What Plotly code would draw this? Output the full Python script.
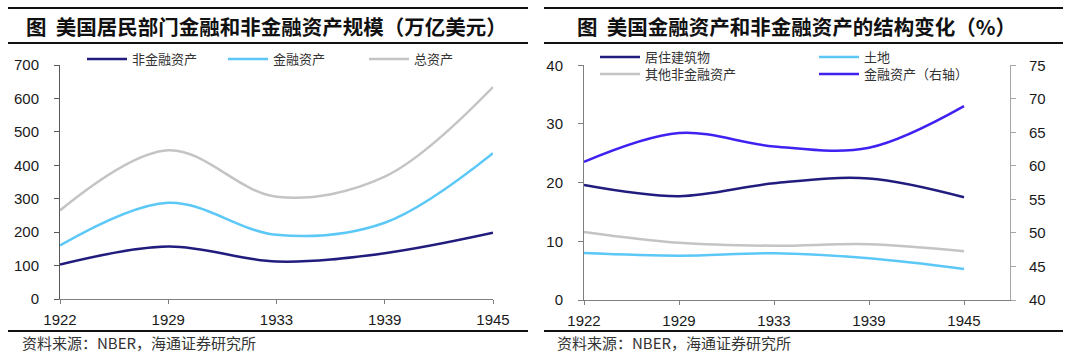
import plotly.graph_objects as go

# ---------------- data ----------------
years = ["1922", "1929", "1933", "1939", "1945"]

# left panel (万亿美元)
nonfin_assets = [103, 157, 112, 137, 198]
fin_assets = [160, 288, 192, 228, 436]
total_assets = [265, 445, 306, 366, 634]

# right panel (%)
residential = [19.6, 17.7, 19.9, 20.7, 17.5]
land = [8.0, 7.55, 7.95, 7.1, 5.3]
other_nonfin = [11.6, 9.75, 9.25, 9.5, 8.3]
fin_share = [60.6, 64.9, 62.9, 62.7, 68.9]

left_ticks = [0, 100, 200, 300, 400, 500, 600, 700]
right_ticks_l = [0, 10, 20, 30, 40]
right_ticks_r = [40, 45, 50, 55, 60, 65, 70, 75]

title_left = "图  美国居民部门金融和非金融资产规模（万亿美元）"
title_right = "图  美国金融资产和非金融资产的结构变化（%）"
source_text = "资料来源：NBER，海通证券研究所"

# ---------------- style ----------------
W, H = 1080, 357
NAVY = "#221C7E"
LBLUE = "#5CC8F7"
GRAY = "#C4C4C4"
PURPLE = "#3F22F2"
TICKFONT = dict(family="Liberation Sans, Arial", size=15, color="#1a1a1a")
CJK = "Noto Sans CJK SC"
LEGFONT = dict(family=CJK, size=13, color="#333333")


def px_x(x):
    return x / W


def px_y(y):
    return 1 - y / H


fig = go.Figure()

# left panel traces
for name, vals, col in [("非金融资产", nonfin_assets, NAVY),
                        ("金融资产", fin_assets, LBLUE),
                        ("总资产", total_assets, GRAY)]:
    fig.add_trace(go.Scatter(x=years, y=vals, name=name, mode="lines",
                             line=dict(color=col, width=2.5, shape="spline", smoothing=1),
                             xaxis="x", yaxis="y", legend="legend"))

# right panel traces
fig.add_trace(go.Scatter(x=years, y=residential, name="居住建筑物", mode="lines",
                         line=dict(color=NAVY, width=2.5, shape="spline", smoothing=1),
                         xaxis="x2", yaxis="y2", legend="legend2"))
fig.add_trace(go.Scatter(x=years, y=land, name="土地", mode="lines",
                         line=dict(color=LBLUE, width=2.5, shape="spline", smoothing=1),
                         xaxis="x2", yaxis="y2", legend="legend2"))
fig.add_trace(go.Scatter(x=years, y=other_nonfin, name="其他非金融资产", mode="lines",
                         line=dict(color=GRAY, width=2.5, shape="spline", smoothing=1),
                         xaxis="x2", yaxis="y2", legend="legend3"))
fig.add_trace(go.Scatter(x=years, y=fin_share, name="金融资产（右轴）", mode="lines",
                         line=dict(color=PURPLE, width=2.5, shape="spline", smoothing=1),
                         xaxis="x2", yaxis="y3", legend="legend3"))

axis_common = dict(showgrid=False, zeroline=False, showline=True, ticks="outside",
                   tickwidth=1, tickfont=TICKFONT, fixedrange=True, automargin=False)

fig.update_layout(
    width=W, height=H,
    margin=dict(l=0, r=0, t=0, b=0, pad=0, autoexpand=False),
    paper_bgcolor="white", plot_bgcolor="white",
    showlegend=True,
    xaxis=dict(domain=[px_x(60), px_x(493)], anchor="y", type="category",
               range=[0, 4], linecolor="#7F7F7F", tickcolor="#7F7F7F",
               ticklen=4, ticklabelstandoff=3, **axis_common),
    yaxis=dict(domain=[px_y(299), px_y(65)], anchor="x", range=[0, 700],
               tickvals=left_ticks, linecolor="#595959", tickcolor="#595959",
               ticklen=5, ticklabelstandoff=12, **axis_common),
    xaxis2=dict(domain=[px_x(584), px_x(1010)], anchor="y2", type="category",
                range=[0, 4.484], linecolor="#7F7F7F", tickcolor="#7F7F7F",
                ticklen=4, ticklabelstandoff=3, **axis_common),
    yaxis2=dict(domain=[px_y(300), px_y(65.3)], anchor="x2", range=[0, 40],
                tickvals=right_ticks_l, linecolor="#7F7F7F", tickcolor="#7F7F7F",
                ticklen=5, ticklabelstandoff=12, **axis_common),
    yaxis3=dict(domain=[px_y(300), px_y(65.3)], anchor="x2", overlaying="y2",
                side="right", range=[40, 75], tickvals=right_ticks_r,
                linecolor="#A6A6A6", tickcolor="#A6A6A6", ticklen=5,
                ticklabelstandoff=10, **axis_common),
    legend=dict(orientation="h", x=px_x(82), y=px_y(59), xanchor="left", yanchor="middle",
                font=LEGFONT, itemwidth=40, entrywidth=86, bgcolor="rgba(0,0,0,0)"),
    legend2=dict(orientation="h", x=px_x(595), y=px_y(57), xanchor="left", yanchor="middle",
                 font=LEGFONT, itemwidth=40, entrywidth=164, bgcolor="rgba(0,0,0,0)"),
    legend3=dict(orientation="h", x=px_x(595), y=px_y(74), xanchor="left", yanchor="middle",
                 font=LEGFONT, itemwidth=40, entrywidth=164, bgcolor="rgba(0,0,0,0)"),
)

# header / footer rules
shapes = []
for (x0, x1) in [(8, 528), (544, 1063)]:
    for y, wdt in [(8, 2.2), (43, 2.0), (331, 2.0)]:
        shapes.append(dict(type="line", xref="paper", yref="paper",
                           x0=px_x(x0), x1=px_x(x1), y0=px_y(y), y1=px_y(y),
                           line=dict(color="#111111", width=wdt)))
fig.update_layout(shapes=shapes)

annotations = [
    dict(text="<b>" + title_left + "</b>", x=px_x(266), y=px_y(26), xref="paper", yref="paper",
         xanchor="center", yanchor="middle", showarrow=False,
         font=dict(family=CJK, size=20.5, color="#111111")),
    dict(text="<b>" + title_right + "</b>", x=px_x(796), y=px_y(26), xref="paper", yref="paper",
         xanchor="center", yanchor="middle", showarrow=False,
         font=dict(family=CJK, size=20.5, color="#111111")),
    dict(text=source_text, x=px_x(20), y=px_y(342), xref="paper", yref="paper",
         xanchor="left", yanchor="middle", showarrow=False,
         font=dict(family=CJK, size=15, color="#333333")),
    dict(text=source_text, x=px_x(555), y=px_y(342), xref="paper", yref="paper",
         xanchor="left", yanchor="middle", showarrow=False,
         font=dict(family=CJK, size=15, color="#333333")),
]
fig.update_layout(annotations=annotations)

fig.write_html("out.html", config={"displayModeBar": False},
               post_script="document.body.style.margin='0px';")
